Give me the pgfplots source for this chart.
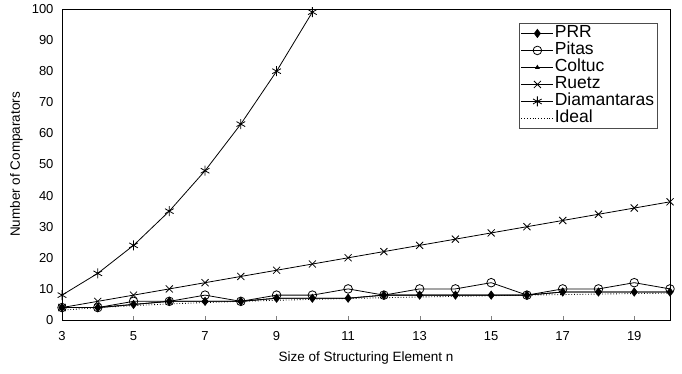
\documentclass[border=0pt]{standalone}
\usepackage{fontspec}
\setmainfont{Liberation Sans}
\usepackage{pgfplots}
\pgfplotsset{compat=1.18}
\begin{document}
\begin{tikzpicture}
\begin{axis}[
  scale only axis,
  width=608pt, height=311pt,
  xmin=3, xmax=20, ymin=0, ymax=100,
  xtick={3,5,...,19},
  ytick={0,10,...,100},
  xtick pos=lower,
  tick align=inside,
  major tick length=4pt,
  ytick style={draw=none},
  /pgf/number format/assume math mode=true,
  xticklabel style={font=\fontsize{13}{14}\selectfont, yshift=-8pt},
  yticklabel style={font=\fontsize{13}{14}\selectfont, xshift=-5pt},
  xlabel={Size of Structuring Element n},
  ylabel={Number of Comparators},
  every axis x label/.style={at={(axis description cs:0.5,-0.122)}, anchor=center, font=\fontsize{13.5}{15}\selectfont},
  every axis y label/.style={at={(axis description cs:-0.075,0.5)}, anchor=center, rotate=90, font=\fontsize{13.5}{15}\selectfont},
  axis line style={line width=0.9pt},
  clip=false,
  every axis plot/.append style={black, line width=0.8pt},
  legend style={at={(0.979,0.955)}, anchor=north east, draw=black!70, line width=0.4pt,
    font=\fontsize{17.5}{18}\selectfont, row sep=0.5pt, inner sep=2pt,
    nodes={inner sep=1pt, text height=11.5pt, text depth=3pt},
    legend cell align=left},
  legend image code/.code={\draw[mark repeat=2,mark phase=2,#1] plot coordinates {(0pt,0pt) (16pt,0pt) (32pt,0pt)};},
  after end axis/.code={
    \path (rel axis cs:0,0) ++(-62pt,-53pt);
    \path (rel axis cs:1,1) ++(12pt,9pt);
  },
]
\addplot[mark=diamond*, mark size=4pt, mark options={fill=black}] coordinates {
(3,4)(4,4)(5,5)(6,6)(7,6)(8,6)(9,7)(10,7)(11,7)(12,8)(13,8)(14,8)(15,8)(16,8)(17,9)(18,9)(19,9)(20,9)};
\addlegendentry{PRR}
\addplot[mark=o, mark size=4.3pt, mark options={fill=white}] coordinates {
(3,4)(4,4)(5,6)(6,6)(7,8)(8,6)(9,8)(10,8)(11,10)(12,8)(13,10)(14,10)(15,12)(16,8)(17,10)(18,10)(19,12)(20,10)};
\addlegendentry{Pitas}
\addplot[mark=triangle*, mark size=2pt, mark options={fill=black}] coordinates {
(3,4)(4,4)(5,5)(6,6)(7,6)(8,6)(9,7)(10,7)(11,7)(12,8)(13,8)(14,8)(15,8)(16,8)(17,9)(18,9)(19,9)(20,9)};
\addlegendentry{Coltuc}
\addplot[mark=x, mark size=5pt] coordinates {
(3,4)(4,6)(5,8)(6,10)(7,12)(8,14)(9,16)(10,18)(11,20)(12,22)(13,24)(14,26)(15,28)(16,30)(17,32)(18,34)(19,36)(20,38)};
\addlegendentry{Ruetz}
\addplot[mark=asterisk, mark size=5pt] coordinates {
(3,8)(4,15)(5,24)(6,35)(7,48)(8,63)(9,80)(10,99)};
\addlegendentry{Diamantaras}
\addplot[dotted, line width=0.9pt] coordinates {
(3,3.17)(4,4)(5,4.64)(6,5.17)(7,5.61)(8,6)(9,6.34)(10,6.64)(11,6.92)(12,7.17)(13,7.40)(14,7.61)(15,7.81)(16,8)(17,8.17)(18,8.34)(19,8.50)(20,8.64)};
\addlegendentry{Ideal}
\end{axis}
\end{tikzpicture}
\end{document}
